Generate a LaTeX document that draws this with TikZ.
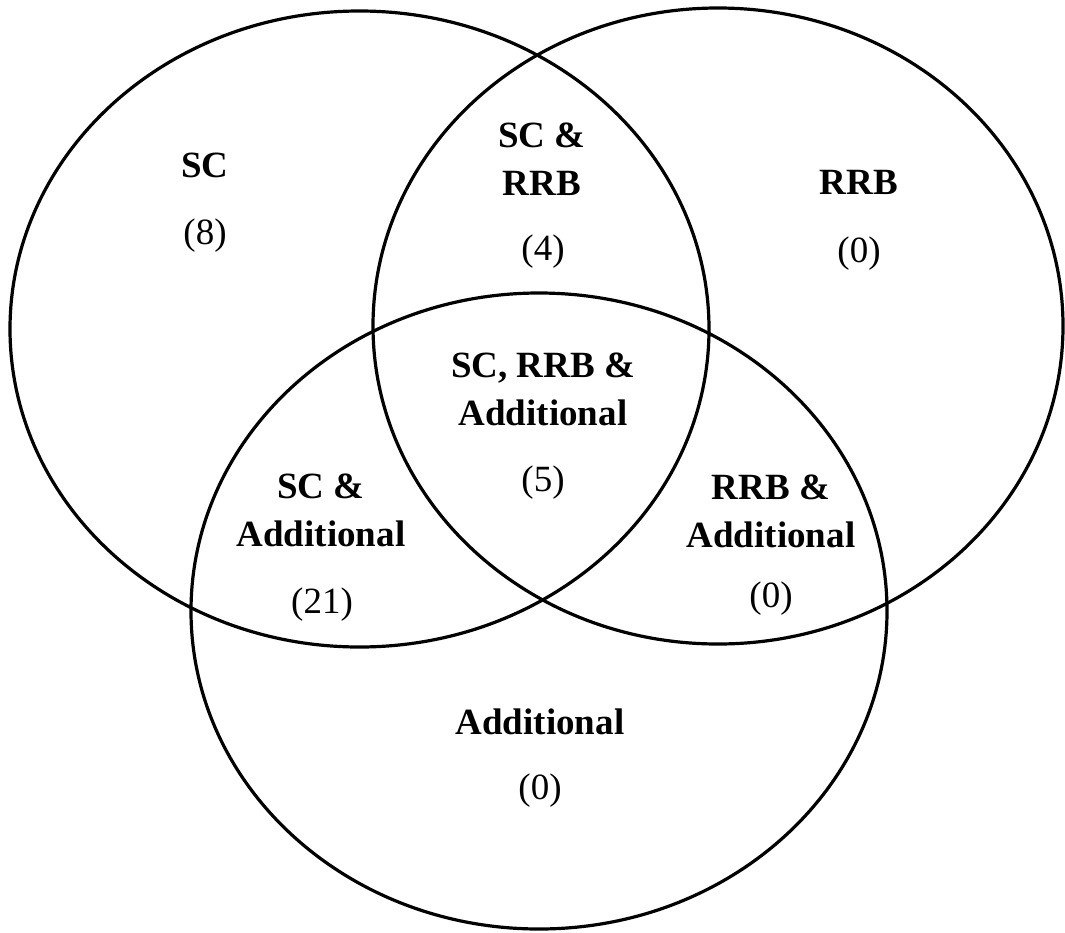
\documentclass[tikz,border=0pt]{standalone}
\usepackage{fontspec}
\setmainfont{Liberation Serif}
\begin{document}
\begin{tikzpicture}[x=1pt,y=-1pt,
  setline/.style={draw=black, line width=3.2pt},
  lbl/.style={font=\fontsize{37}{48}\selectfont\bfseries, align=center, inner sep=0pt},
  cnt/.style={font=\fontsize{37}{48}\selectfont, inner sep=0pt}]
\useasboundingbox (0,0) rectangle (1065,932);
% sets
\draw[setline] (359.5,329) ellipse [x radius=349.5, y radius=318];
\draw[setline] (718,326) ellipse [x radius=345, y radius=318];
\draw[setline] (539,611) ellipse [x radius=348, y radius=318];
% labels
\node[lbl] (sc) at (205,165) {SC};
\node[cnt] (scn) at (205,236) {(8)};
\node[lbl] (scrrb) at (542,159) {SC \&\\RRB};
\node[cnt] (scrrbn) at (543,252) {(4)};
\node[lbl] (rrb) at (859,182) {RRB};
\node[cnt] (rrbn) at (859,254) {(0)};
\node[lbl] (all) at (543,389) {SC, RRB \&\\Additional};
\node[cnt] (alln) at (543,483) {(5)};
\node[lbl] (scadd) at (321,510) {SC \&\\Additional};
\node[cnt] (scaddn) at (322,605) {(21)};
\node[lbl] (rrbadd) at (771,511) {RRB \&\\Additional};
\node[cnt] (rrbaddn) at (771,599) {(0)};
\node[lbl] (add) at (540,722) {Additional};
\node[cnt] (addn) at (540,791) {(0)};
\end{tikzpicture}
\end{document}
